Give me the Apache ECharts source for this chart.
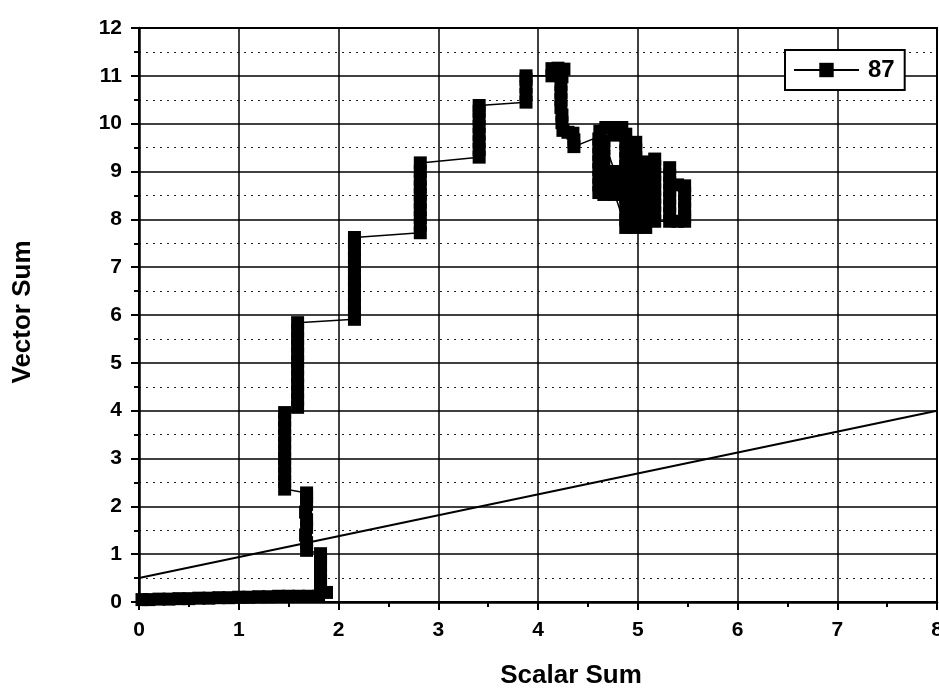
<!DOCTYPE html>
<html>
<head>
<meta charset="utf-8">
<script src="https://cdn.jsdelivr.net/npm/echarts@6/dist/echarts.min.js"></script>
<style>
html,body{margin:0;padding:0;background:#fff;}
#chart{width:939px;height:688px;}
</style>
</head>
<body>
<div id="chart"></div>
<script>
// ---- data ----
const seriesName = '87';
const xTitle = 'Scalar Sum';
const yTitle = 'Vector Sum';

// series "87": scalar sum (x) and vector sum (y), in path order
const scalarSum = [
  0.03,0.10,0.20,0.30,0.40,0.50,0.60,0.70,0.80,0.90,1.00,1.10,1.20,1.30,1.40,1.50,1.60,1.70,1.80,1.88,
  1.82,1.82,1.82,1.82,1.82,1.82,
  1.68,1.68,1.67,1.68,1.68,1.67,1.68,1.68,1.68,
  1.46,1.46,1.46,1.46,1.46,1.46,1.46,1.46,1.46,1.46,1.46,
  1.59,1.59,1.59,1.59,1.59,1.59,1.59,1.59,1.59,1.59,1.59,1.59,
  2.16,2.16,2.16,2.16,2.16,2.16,2.16,2.16,2.16,2.16,2.16,2.16,
  2.82,2.82,2.82,2.82,2.82,2.82,2.82,2.82,2.82,2.82,
  3.41,3.41,3.41,3.41,3.41,3.41,3.41,3.41,
  3.88,3.88,3.88,3.88,3.88,
  4.14,4.14,4.20,4.26,4.24,4.23,4.23,4.23,4.23,4.24,4.24,4.25,4.30,4.35,4.36,4.36,
  4.84,4.76,4.68,4.62,4.76,
  4.61,4.61,4.61,4.61,4.61,4.61,4.61,4.61,
  4.66,4.66,4.66,4.66,4.66,4.66,4.66,4.66,
  4.77,4.77,4.77,4.77,
  4.88,4.88,4.88,4.88,4.88,4.88,4.88,4.88,4.88,4.88,4.88,4.88,4.88,
  4.98,4.98,4.98,4.98,4.98,4.98,4.98,4.98,4.98,4.98,4.98,4.98,
  5.08,5.08,5.08,5.08,5.08,5.08,5.08,5.08,5.08,5.08,
  5.17,5.17,5.17,5.17,5.17,5.17,5.17,5.17,5.17,
  5.32,5.32,5.32,5.32,5.32,5.32,5.32,5.32,
  5.40,
  5.47,5.47,5.47,5.47,5.47,5.47,
  5.40
];
const vectorSum = [
  0.05,0.05,0.06,0.06,0.07,0.07,0.08,0.08,0.09,0.09,0.10,0.10,0.11,0.11,0.12,0.12,0.12,0.12,0.12,0.20,
  0.30,0.45,0.60,0.75,0.90,1.01,
  1.08,1.24,1.40,1.56,1.72,1.88,2.04,2.20,2.28,
  2.36,2.52,2.68,2.84,3.00,3.16,3.32,3.48,3.64,3.80,3.96,
  4.07,4.23,4.39,4.55,4.71,4.87,5.03,5.19,5.35,5.51,5.67,5.84,
  5.91,6.07,6.23,6.39,6.55,6.71,6.87,7.03,7.19,7.35,7.51,7.62,
  7.72,7.88,8.04,8.20,8.36,8.52,8.68,8.84,9.00,9.18,
  9.30,9.46,9.62,9.78,9.94,10.10,10.26,10.38,
  10.45,10.61,10.77,10.93,11.00,
  11.00,11.15,11.16,11.14,10.98,10.82,10.66,10.50,10.34,10.18,10.02,9.86,9.82,9.80,9.66,9.52,
  9.92,9.92,9.92,9.84,9.76,
  9.68,9.52,9.36,9.20,9.04,8.88,8.72,8.56,
  8.52,8.68,8.84,9.00,9.16,9.32,9.48,9.64,
  9.00,8.84,8.68,8.52,
  7.83,7.99,8.15,8.31,8.47,8.63,8.79,8.95,9.11,9.27,9.43,9.59,9.78,
  9.61,9.45,9.29,9.13,8.97,8.81,8.65,8.49,8.33,8.17,8.01,7.83,
  7.83,7.99,8.15,8.31,8.47,8.63,8.79,8.95,9.11,9.20,
  9.26,9.10,8.94,8.78,8.62,8.46,8.30,8.14,7.96,
  7.96,8.12,8.28,8.44,8.60,8.76,8.92,9.08,
  8.72,
  8.70,8.54,8.38,8.22,8.06,7.96,
  7.96
];

// straight reference line
const refLineX = [0, 8];
const refLineY = [0.5, 4];

// axis ranges
const xRange = [0, 8];
const yRange = [0, 12];

// ---- chart ----
const FONT = '"Liberation Sans", Arial, sans-serif';
const mainData = scalarSum.map((x, i) => [x, vectorSum[i]]);
const refData = refLineX.map((x, i) => [x, refLineY[i]]);

const chart = echarts.init(document.getElementById('chart'), null, {renderer: 'canvas'});

const axisCommon = {
  type: 'value',
  interval: 1,
  axisLine: {show: true, onZero: false, lineStyle: {color: '#000', width: 2.5}},
  axisTick: {show: true, inside: false, length: 8, lineStyle: {color: '#000', width: 2}},
  minorTick: {show: true, splitNumber: 2, length: 5, lineStyle: {color: '#000', width: 2}},
  splitLine: {show: true, lineStyle: {color: '#000', width: 1.5}},
  axisLabel: {fontSize: 21, fontWeight: 'bold', color: '#000', fontFamily: FONT}
};

chart.setOption({
  animation: false,
  backgroundColor: '#fff',
  grid: {left: 139, right: 2, top: 28, bottom: 86, show: true, borderColor: '#000', borderWidth: 2,
         containLabel: false, outerBoundsMode: 'none'},
  xAxis: Object.assign({}, axisCommon, {
    min: xRange[0], max: xRange[1],
    axisLabel: Object.assign({}, axisCommon.axisLabel, {margin: 18})
  }),
  yAxis: Object.assign({}, axisCommon, {
    min: yRange[0], max: yRange[1],
    axisLabel: Object.assign({}, axisCommon.axisLabel, {margin: 17}),
    minorSplitLine: {show: true, lineStyle: {color: '#222', width: 1, type: [2, 5]}}
  }),
  legend: {
    data: [seriesName],
    left: 785, top: 50,
    backgroundColor: '#fff',
    borderColor: '#000', borderWidth: 2, borderRadius: 0,
    padding: [8, 10, 8, 8],
    itemWidth: 65, itemHeight: 18,
    textStyle: {fontSize: 24, fontWeight: 'bold', color: '#000', fontFamily: FONT, padding: [0, 0, 0, 4]}
  },
  graphic: [
    {type: 'text', x: 571, y: 676, style: {text: xTitle, font: 'bold 26px ' + FONT, fill: '#000', align: 'center', verticalAlign: 'middle'}},
    {type: 'text', x: 23, y: 312, rotation: Math.PI / 2, style: {text: yTitle, font: 'bold 26px ' + FONT, fill: '#000', align: 'center', verticalAlign: 'middle'}}
  ],
  series: [
    {
      name: 'reference',
      type: 'line',
      data: refData,
      symbol: 'none',
      silent: true,
      lineStyle: {color: '#000', width: 2},
      z: 2
    },
    {
      name: seriesName,
      type: 'line',
      data: mainData,
      symbol: 'rect',
      symbolSize: 13,
      showSymbol: true,
      showAllSymbol: true,
      itemStyle: {color: '#000'},
      lineStyle: {color: '#000', width: 1.5},
      z: 3
    }
  ]
});
</script>
</body>
</html>
